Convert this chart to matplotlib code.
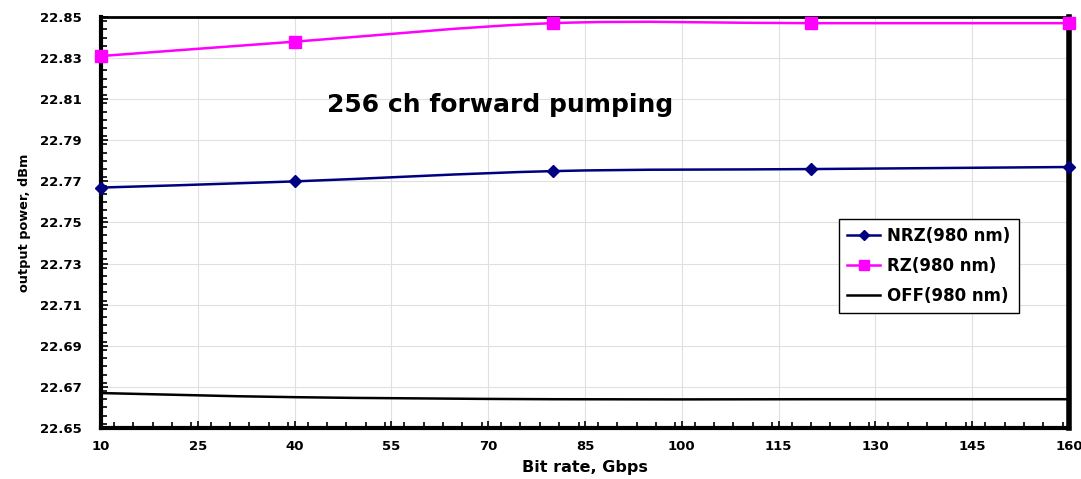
import numpy as np
import matplotlib
matplotlib.use('Agg')
import matplotlib.pyplot as plt
from matplotlib.path import Path
from matplotlib.patches import PathPatch
from matplotlib.lines import Line2D
from matplotlib.ticker import MultipleLocator

bit_rate = [10, 40, 80, 120, 160]
nrz = [22.767, 22.770, 22.775, 22.776, 22.777]
rz = [22.831, 22.838, 22.847, 22.847, 22.847]
off = [22.667, 22.665, 22.664, 22.664, 22.664]

x_ticks = [10, 25, 40, 55, 70, 85, 100, 115, 130, 145, 160]
y_ticks = [22.65, 22.67, 22.69, 22.71, 22.73, 22.75, 22.77, 22.79, 22.81, 22.83, 22.85]

plt.rcParams['font.family'] = ['DejaVu Sans']
plt.rcParams['font.weight'] = 'bold'


def smooth_path(x, y):
    # excel style smoothed line: catmull-rom as cubic bezier segments
    p = np.column_stack([x, y]).astype(float)
    n = len(p)
    verts = [p[0]]
    codes = [Path.MOVETO]
    for i in range(n - 1):
        p0 = p[i - 1] if i > 0 else p[i]
        p3 = p[i + 2] if i + 2 < n else p[i + 1]
        c1 = p[i] + (p[i + 1] - p0) / 6
        c2 = p[i + 1] - (p3 - p[i]) / 6
        verts += [c1, c2, p[i + 1]]
        codes += [Path.CURVE4] * 3
    return Path(verts, codes)


fig = plt.figure(figsize=(10.81, 4.79), dpi=100)
ax = fig.add_axes([0.0934, 0.1065, 0.8956, 0.858])

series = [
    (nrz, '#000080', 'D', 6, 'NRZ(980 nm)'),
    (rz, '#FF00FF', 's', 8, 'RZ(980 nm)'),
    (off, 'black', None, 0, 'OFF(980 nm)'),
]
handles = []
for vals, col, mk, ms, lab in series:
    ax.add_patch(PathPatch(smooth_path(bit_rate, vals), facecolor='none',
                           edgecolor=col, lw=1.8, zorder=3, clip_on=False))
    if mk:
        ax.plot(bit_rate, vals, ls='none', marker=mk, color=col, ms=ms,
                zorder=4, clip_on=False)
    handles.append(Line2D([], [], color=col, lw=1.8, marker=mk, ms=ms - 1, label=lab))

ax.set_xlim(10, 160)
ax.set_ylim(22.65, 22.85)
ax.set_xticks(x_ticks)
ax.set_yticks(y_ticks)
ax.set_yticklabels(['%.2f' % v for v in y_ticks])
ax.xaxis.set_minor_locator(MultipleLocator(3))
ax.yaxis.set_minor_locator(MultipleLocator(0.004))
ax.tick_params(which='both', direction='in', labelsize=9.5, width=1.2)
ax.tick_params(which='major', length=5, pad=9)
ax.tick_params(which='minor', length=4)
ax.tick_params(axis='y', pad=14)
ax.grid(True, which='major', color='#e0e0e0', lw=0.8)
ax.set_axisbelow(True)

for s in ['left', 'bottom']:
    ax.spines[s].set_linewidth(3)
ax.spines['right'].set_linewidth(4)
ax.spines['top'].set_linewidth(2)

ax.set_xlabel('Bit rate, Gbps', fontsize=11.5, fontweight='bold', labelpad=5)
ax.set_ylabel('output power, dBm', fontsize=9.3, fontweight='bold', labelpad=6)

ax.text(45, 22.807, '256 ch forward pumping', fontsize=18, fontweight='bold',
        va='center', ha='left')

leg = ax.legend(handles=handles, loc='lower left', bbox_to_anchor=(0.762, 0.28),
                borderaxespad=0, fancybox=False, framealpha=1, edgecolor='black',
                fontsize=12, handlelength=2.0, handletextpad=0.4,
                labelspacing=0.7, borderpad=0.5)
leg.get_frame().set_linewidth(1.0)

fig.savefig('out.png', dpi=100)
